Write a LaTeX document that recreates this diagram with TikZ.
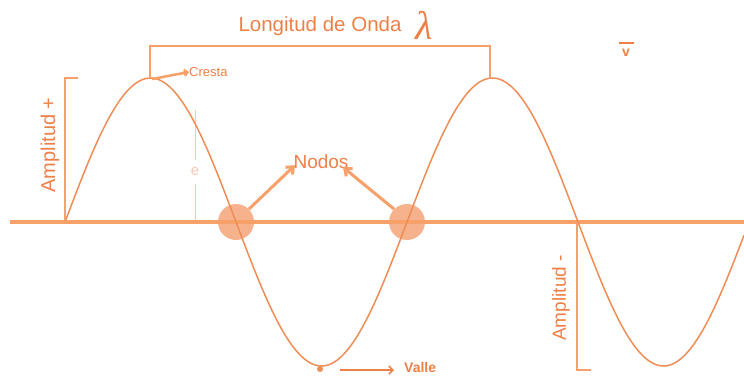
\documentclass[tikz,border=0pt]{standalone}
\usepackage{fontspec}
\setmainfont{Liberation Sans}
\newfontfamily\lamfont{Liberation Serif}
\usetikzlibrary{arrows.meta}
\definecolor{waveC}{RGB}{240,140,85}
\definecolor{axisC}{RGB}{248,160,105}
\definecolor{txtC}{RGB}{238,128,70}
\definecolor{nodeC}{RGB}{245,165,120}
\definecolor{lightC}{RGB}{248,200,180}
\tikzset{
  wave/.style={waveC, line width=1.5pt},
  axis/.style={axisC, line width=4pt},
  bracket/.style={axisC, line width=2.2pt},
  lbl/.style={txtC, inner sep=0pt},
  pointer/.style={axisC, line width=3pt, -{Straight Barb[length=6pt,width=10pt]}},
  nodo/.style={circle, fill=nodeC, opacity=0.85, minimum size=36pt, inner sep=0pt}
}
\begin{document}
\begin{tikzpicture}[x=1pt,y=-1pt]
\useasboundingbox (0,0) rectangle (744,376);
% faint guide
\draw[lightC, line width=1pt] (195,110) -- (195,160) (195,184) -- (195,222);
\node[lbl, text=lightC, font=\fontsize{15}{15}\selectfont] (e) at (195,172) {e};
% node circles
\node[nodo] (n1) at (236,222) {};
\node[nodo] (n2) at (407,222) {};
% axis
\coordinate (axL) at (10,222);
\coordinate (axR) at (744,222);
\draw[axis] (axL) -- (axR);
% wave
\draw[wave] plot[domain=65:744, samples=300, smooth] (\x, {222 - 144*sin((\x-65)/342*360)});
% wavelength bracket
\coordinate (b1) at (150,78);
\coordinate (b2) at (150,46);
\coordinate (b3) at (490,46);
\coordinate (b4) at (490,78);
\draw[bracket] (b1) -- (b2) -- (b3) -- (b4);
\node[lbl, font=\fontsize{20.5}{20}\selectfont] (lo) at (320,26) {Longitud de Onda};
\node[lbl, font=\lamfont\itshape\fontsize{40}{40}\selectfont] (lam) at (424,25) {λ};
% vector v
\node[lbl, font=\bfseries\fontsize{14}{14}\selectfont] (v) at (626,53) {v};
\draw[txtC, line width=1.8pt] (619,43) -- (634,43);
% amplitude +
\coordinate (a1) at (78,78);
\coordinate (a2) at (65,78);
\coordinate (a3) at (65,222);
\draw[bracket] (a1) -- (a2) -- (a3);
\node[lbl, rotate=90, font=\fontsize{20}{20}\selectfont] (amp) at (50,145) {Amplitud +};
% amplitude -
\coordinate (m1) at (577,222);
\coordinate (m2) at (577,370);
\coordinate (m3) at (591,370);
\draw[bracket] (m1) -- (m2) -- (m3);
\node[lbl, rotate=90, font=\fontsize{19}{19}\selectfont] (ampm) at (561,298) {Amplitud -};
% cresta
\coordinate (cr) at (152,79);
\node[lbl, anchor=west, font=\fontsize{13}{13}\selectfont] (cresta) at (189,72) {Cresta};
\draw[axisC, line width=2.5pt, -{Straight Barb[length=3pt,width=6pt]}] (cr) -- (cresta.west);
% nodos
\node[lbl, font=\fontsize{19}{19}\selectfont] (nodos) at (321,162) {Nodos};
\draw[pointer] (n1.north east) -- ([xshift=-26pt,yshift=4pt]nodos.south);
\draw[pointer] (n2.north west) -- ([xshift=22pt,yshift=2pt]nodos.south);
% valle
\coordinate (vd) at (320,369);
\fill[waveC] (vd) circle (3pt);
\node[lbl, anchor=west, font=\bfseries\fontsize{14}{14}\selectfont] (valle) at (404,367) {Valle};
\draw[txtC, line width=1.6pt, -{Straight Barb[length=4pt,width=8pt]}] (340,370) -- (394,370);
\end{tikzpicture}
\end{document}
